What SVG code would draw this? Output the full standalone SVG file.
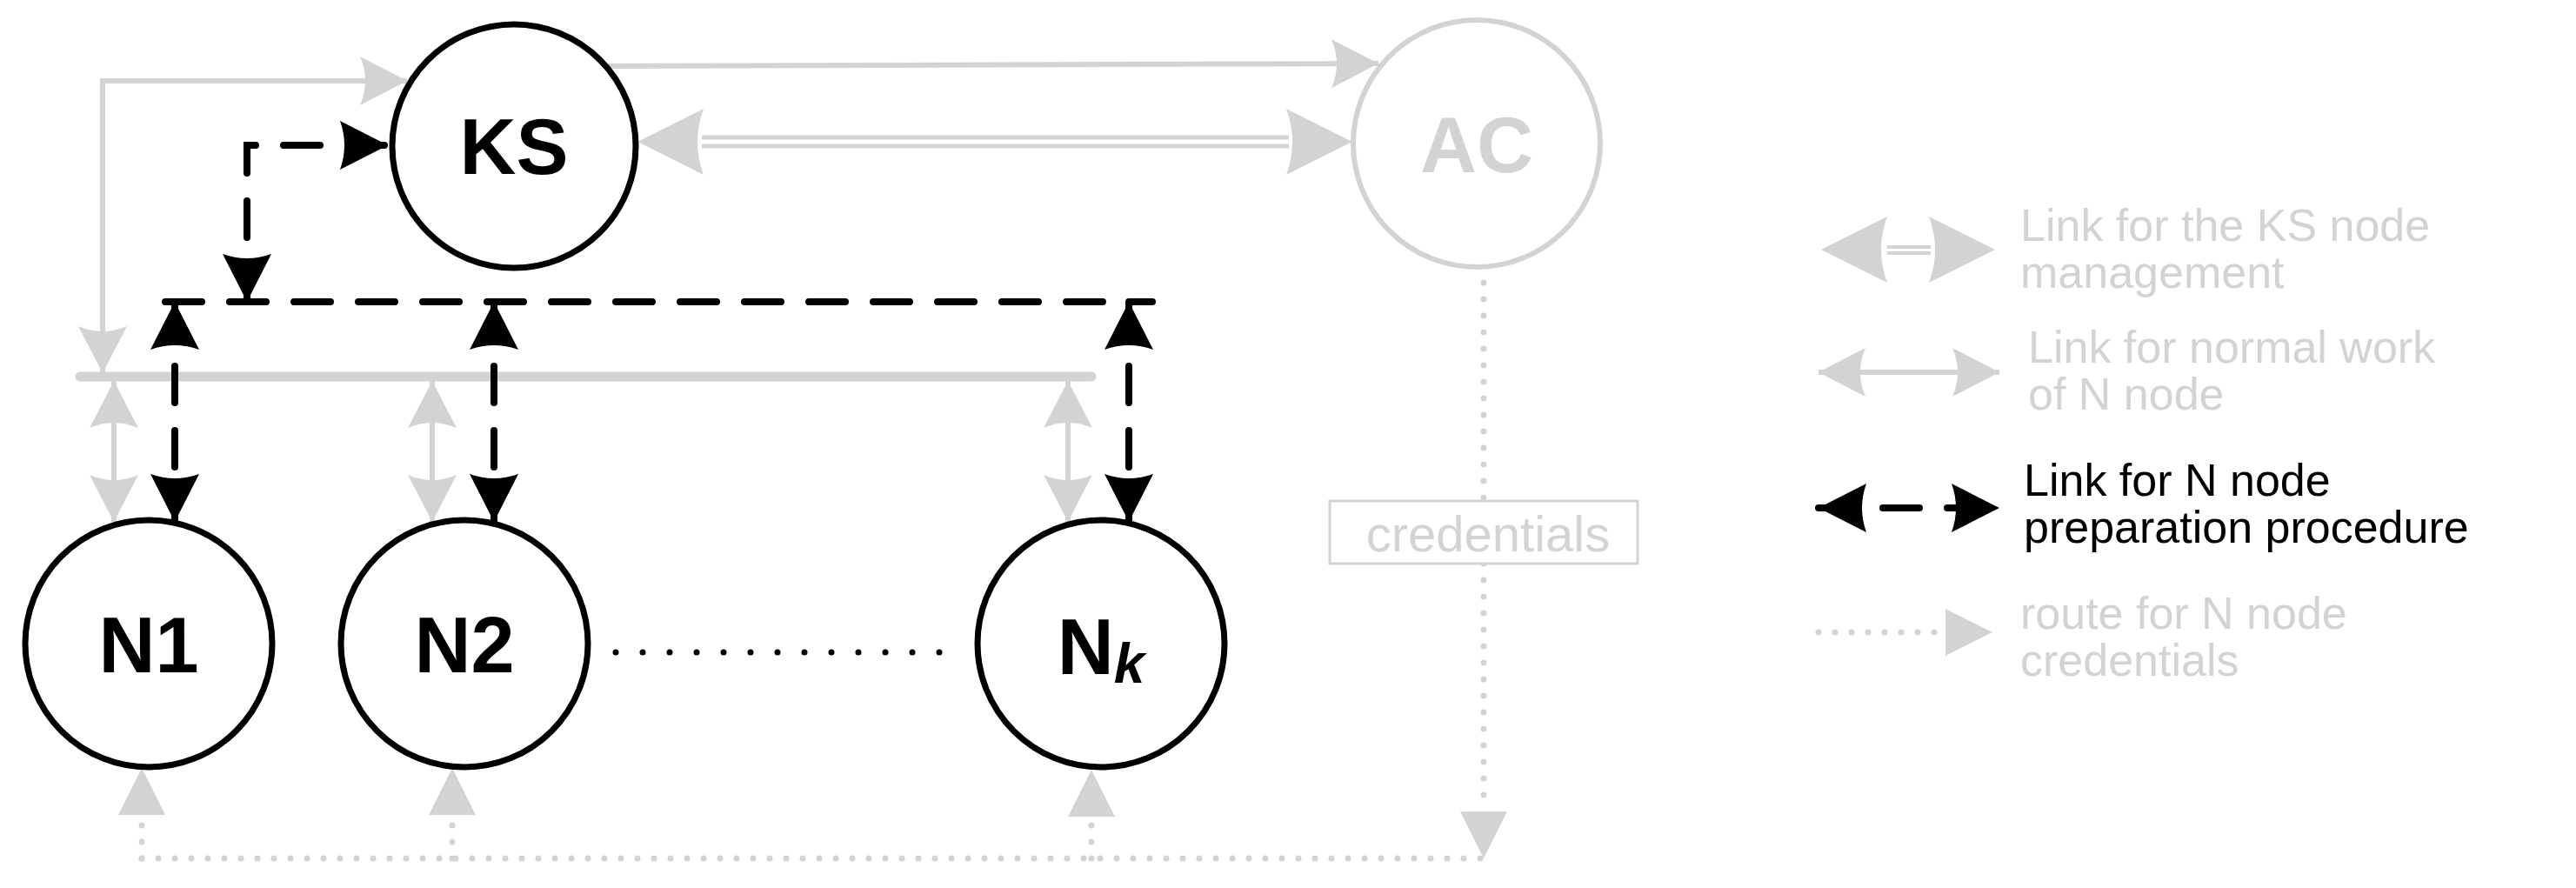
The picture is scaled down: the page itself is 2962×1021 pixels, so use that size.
<svg xmlns="http://www.w3.org/2000/svg" width="2962" height="1021" viewBox="0 0 2962 1021">
<style>
.node{fill:#fff;stroke:#000;stroke-width:7}
.gnode{fill:#fff;stroke:#d3d3d3;stroke-width:6}
.lbl{font-family:"Liberation Sans",Arial,sans-serif;font-weight:bold;font-size:90px;text-anchor:middle}
.g{fill:none;stroke:#d3d3d3;stroke-width:6}
.b{fill:none;stroke:#000;stroke-width:8;stroke-dasharray:42 32;stroke-linecap:round}
.gd{fill:none;stroke:#d3d3d3;stroke-width:7;stroke-dasharray:0 19;stroke-linecap:round}
.bd{fill:none;stroke:#000;stroke-width:7;stroke-dasharray:0 31;stroke-linecap:round}
.leg{font-family:"Liberation Sans",Arial,sans-serif;font-size:52px;fill:#d3d3d3}
.leg.blk{fill:#000}
</style>
<defs>
<marker id="ga" markerUnits="userSpaceOnUse" viewBox="-56 -30 60 60" refX="0" refY="0" markerWidth="60" markerHeight="60" orient="auto-start-reverse"><path d="M0,0 L-54,-28 Q-42,0 -54,28 Z" fill="#d3d3d3"/></marker>
<marker id="gb" markerUnits="userSpaceOnUse" viewBox="-78 -40 82 80" refX="0" refY="0" markerWidth="82" markerHeight="80" orient="auto-start-reverse"><path d="M0,0 L-76,-38 Q-62,0 -76,38 Z" fill="#d3d3d3"/></marker>
<marker id="ba" markerUnits="userSpaceOnUse" viewBox="-58 -30 62 60" refX="0" refY="0" markerWidth="62" markerHeight="60" orient="auto-start-reverse"><path d="M0,0 L-55,-28 Q-45,0 -55,28 Z" fill="#000"/></marker>
<marker id="gt" markerUnits="userSpaceOnUse" viewBox="-56 -30 60 60" refX="0" refY="0" markerWidth="60" markerHeight="60" orient="auto"><path d="M0,0 L-54,-27 L-54,27 Z" fill="#d3d3d3"/></marker>
</defs>
<g id="connectors">
<path class="g" d="M697,76 L1585,73" marker-end="url(#ga)"/>
<line x1="807" y1="158" x2="1482" y2="158" stroke="#d3d3d3" stroke-width="5"/>
<line x1="807" y1="168" x2="1482" y2="168" stroke="#d3d3d3" stroke-width="5"/>
<path d="M733,163 H1555" stroke="none" fill="none" marker-start="url(#gb)" marker-end="url(#gb)"/>
<path class="g" d="M118,429 V93 H468" marker-start="url(#ga)" marker-end="url(#ga)"/>
<line x1="92" y1="433" x2="1255" y2="433" stroke="#d3d3d3" stroke-width="11" stroke-linecap="round"/>
<path class="g" d="M131,438 V600" marker-start="url(#ga)" marker-end="url(#ga)"/>
<path class="g" d="M497,438 V600" marker-start="url(#ga)" marker-end="url(#ga)"/>
<path class="g" d="M1228,438 V600" marker-start="url(#ga)" marker-end="url(#ga)"/>
<path class="b" d="M190,347 H1325"/>
<path class="b" d="M201,347 V600" marker-start="url(#ba)" marker-end="url(#ba)"/>
<path class="b" d="M568,347 V600" marker-start="url(#ba)" marker-end="url(#ba)"/>
<path class="b" d="M1298,347 V600" marker-start="url(#ba)" marker-end="url(#ba)"/>
<path class="b" d="M284,347 V167 H446" marker-start="url(#ba)" marker-end="url(#ba)"/>
<path class="bd" d="M708,750 H1090"/>
<path class="gd" d="M1706,325 V931"/>
<path d="M1706,325 V987" stroke="none" fill="none" marker-end="url(#gt)"/>
<path class="gd" d="M163,987 H1706"/>
<path class="gd" d="M163,987 V937"/>
<path d="M163,987 V883" fill="none" marker-end="url(#gt)"/>
<path class="gd" d="M520,987 V937"/>
<path d="M520,987 V883" fill="none" marker-end="url(#gt)"/>
<path class="gd" d="M1255,987 V937"/>
<path d="M1255,987 V885" fill="none" marker-end="url(#gt)"/>
</g>
<g id="credentials-label">
<rect x="1529" y="576" width="354" height="72" fill="#fff" stroke="#d3d3d3" stroke-width="3"/>
<text x="1711" y="634" font-family="Liberation Sans,Arial,sans-serif" font-size="58" fill="#d3d3d3" text-anchor="middle">credentials</text>
</g>
<g id="KS"><circle class="node" cx="591" cy="168" r="140"/><text class="lbl" x="591" y="200">KS</text></g>
<g id="AC"><circle class="gnode" cx="1698" cy="165" r="142"/><text class="lbl" x="1698" y="198" fill="#d3d3d3">AC</text></g>
<g id="N1"><circle class="node" cx="171" cy="740" r="142"/><text class="lbl" x="171" y="773">N1</text></g>
<g id="N2"><circle class="node" cx="534" cy="740" r="142"/><text class="lbl" x="534" y="773">N2</text></g>
<g id="Nk"><circle class="node" cx="1266" cy="740" r="142"/><text class="lbl" x="1266" y="775">N<tspan font-style="italic" font-size="64" dy="10">k</tspan></text></g>
<g id="legend">
<line x1="2170" y1="284" x2="2220" y2="284" stroke="#d3d3d3" stroke-width="4"/>
<line x1="2170" y1="291" x2="2220" y2="291" stroke="#d3d3d3" stroke-width="4"/>
<path d="M2094,287 H2294" stroke="none" fill="none" marker-start="url(#gb)" marker-end="url(#gb)"/>
<text class="leg" x="2323" y="277">Link for the KS node</text>
<text class="leg" x="2323" y="331">management</text>
<path class="g" d="M2091,428 H2299" marker-start="url(#ga)" marker-end="url(#ga)"/>
<text class="leg" x="2332" y="417">Link for normal work</text>
<text class="leg" x="2332" y="471">of N node</text>
<path class="b" d="M2091,584 H2299" stroke-dasharray="34 36" marker-start="url(#ba)" marker-end="url(#ba)"/>
<text class="leg blk" x="2327" y="570">Link for N node</text>
<text class="leg blk" x="2327" y="624">preparation procedure</text>
<path class="gd" d="M2091,727 H2227"/>
<path d="M2091,727 H2291" fill="none" marker-end="url(#gt)"/>
<text class="leg" x="2323" y="723">route for N node</text>
<text class="leg" x="2323" y="777">credentials</text>
</g>
</svg>
